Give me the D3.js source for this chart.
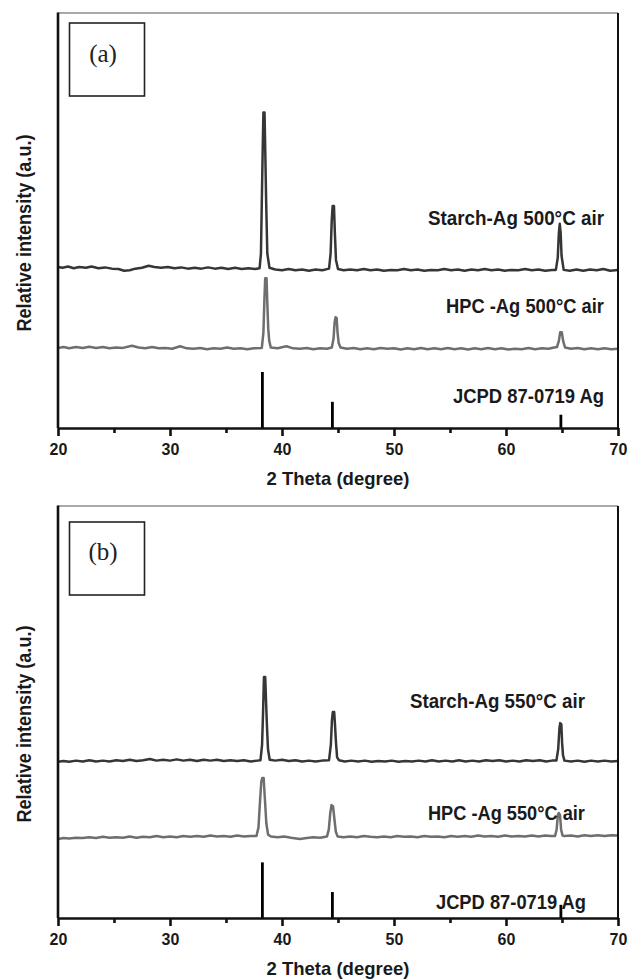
<!DOCTYPE html>
<html>
<head>
<meta charset="utf-8">
<script src="https://cdn.jsdelivr.net/npm/d3@7"></script>
<style>
  html, body { margin: 0; padding: 0; background: #fff; }
  svg { display: block; }
</style>
</head>
<body>
<svg id="chart" width="628" height="979"></svg>
<script>
// ── Datos (2θ en grados, intensidad relativa desplazada) ─────────
const X_TICKS = [20, 30, 40, 50, 60, 70];
const X_MINOR = [25, 35, 45, 55, 65];

const JCPD_87_0719 = [[38.25, 13.5], [44.5, 6.3], [64.9, 3.2]];

const STARCH_500 = [
  [20.0,38.8],[20.4,38.6],[20.9,38.9],[21.4,38.5],[21.9,38.8],[22.5,38.6],[23.0,38.9],[23.6,38.5],
  [24.2,38.7],[24.8,38.4],[25.4,38.3],[25.9,37.9],[26.4,38.0],[26.9,38.4],[27.5,38.6],[28.1,39.1],
  [28.6,38.8],[29.2,38.6],[29.8,38.8],[30.4,38.5],[31.0,38.7],[31.6,38.4],[32.2,38.6],[32.8,38.4],
  [33.4,38.7],[34.0,38.4],[34.6,38.6],[35.2,38.3],[35.8,38.6],[36.4,38.3],[37.0,38.5],[37.6,38.3],
  [38.0,38.5],[38.12,42],[38.2,55],[38.27,66],[38.34,76],[38.44,76],[38.51,66],[38.59,54],
  [38.69,42],[38.88,38.6],[39.4,38.2],[40.0,38.0],[40.6,38.3],[41.2,38.0],[41.8,38.2],[42.4,37.9],
  [43.0,38.2],[43.6,38.0],[44.2,38.4],[44.34,42],[44.44,50],[44.52,53.5],[44.64,53.5],[44.72,47],
  [44.82,40.5],[45.0,38.3],[45.5,38.0],[46.1,38.2],[46.7,38.0],[47.3,38.3],[47.9,38.0],[48.5,38.2],
  [49.1,37.9],[49.7,38.1],[50.3,38.0],[50.9,38.3],[51.5,38.0],[52.1,38.2],[52.7,37.9],[53.3,38.1],
  [53.9,38.0],[54.5,38.3],[55.1,38.0],[55.7,38.2],[56.3,37.9],[56.9,38.2],[57.5,38.0],[58.1,38.3],
  [58.7,38.0],[59.3,38.2],[59.9,37.9],[60.5,38.1],[61.1,38.0],[61.7,38.3],[62.3,38.0],[62.9,38.2],
  [63.5,37.9],[64.1,38.1],[64.45,38.1],[64.62,41],[64.72,47],[64.8,49.2],[64.88,47],[64.96,41.5],
  [65.15,38.1],[65.7,37.9],[66.3,38.2],[66.9,37.9],[67.5,38.2],[68.1,38.0],[68.7,38.3],[69.3,37.9],
  [70.0,38.1]
];

const HPC_500 = [
  [20.0,19.3],[20.5,19.5],[21.0,19.2],[21.6,19.5],[22.2,19.3],[22.8,19.6],[23.4,19.3],[24.0,19.5],
  [24.6,19.2],[25.2,19.4],[25.8,19.3],[26.6,19.8],[27.2,19.4],[27.8,19.2],[28.4,19.5],[29.0,19.2],
  [29.6,19.3],[30.2,19.1],[30.9,19.7],[31.5,19.2],[32.1,19.1],[32.7,19.3],[33.3,19.0],[33.9,19.2],
  [34.5,19.1],[35.1,19.4],[35.7,19.1],[36.3,19.2],[36.9,19.0],[37.5,19.2],[38.2,19.3],[38.34,23],
  [38.43,31],[38.5,36.1],[38.62,36.1],[38.69,30],[38.77,24],[38.86,21],[39.0,19.4],[39.6,19.2],
  [40.4,19.7],[41.0,19.2],[41.6,19.1],[42.2,19.3],[42.8,19.0],[43.4,19.2],[44.0,19.1],[44.45,19.4],
  [44.6,21.5],[44.7,25.5],[44.78,26.7],[44.88,26.5],[44.96,23],[45.06,20.5],[45.22,19.4],[45.8,19.1],
  [46.4,19.3],[47.0,19.0],[47.6,19.2],[48.2,19.0],[48.8,19.3],[49.4,19.1],[50.0,19.2],[50.6,18.9],
  [51.2,19.2],[51.8,19.0],[52.4,19.3],[53.0,19.0],[53.6,19.2],[54.2,19.0],[54.8,19.3],[55.4,19.0],
  [56.0,19.2],[56.6,18.9],[57.2,19.2],[57.8,19.0],[58.4,19.3],[59.0,19.0],[59.6,19.2],[60.2,18.9],
  [60.8,19.1],[61.4,19.0],[62.0,19.3],[62.6,19.0],[63.2,19.2],[63.8,19.1],[64.3,19.4],[64.55,19.5],
  [64.72,21],[64.84,23.1],[64.98,23.1],[65.1,21],[65.27,19.4],[65.8,19.1],[66.4,19.3],[67.0,19.0],
  [67.6,19.2],[68.2,19.0],[68.8,19.2],[69.4,19.0],[70.0,19.1]
];

const STARCH_550 = [
  [20.0,37.9],[20.5,38.1],[21.0,37.9],[21.6,38.2],[22.2,38.0],[22.8,38.3],[23.4,38.0],[24.0,38.2],
  [24.6,38.0],[25.2,38.3],[25.8,38.1],[26.4,38.4],[27.0,38.1],[27.6,38.3],[28.2,38.6],[28.8,38.2],
  [29.4,38.4],[30.0,38.2],[30.6,38.5],[31.2,38.2],[31.8,38.4],[32.4,38.1],[33.0,38.4],[33.6,38.2],
  [34.2,38.4],[34.8,38.1],[35.4,38.3],[36.0,38.1],[36.6,38.3],[37.2,38.0],[37.8,38.2],[38.08,38.3],
  [38.22,42],[38.31,50],[38.39,58.5],[38.5,58.5],[38.57,53],[38.65,47],[38.75,41],[38.9,38.4],
  [39.4,38.2],[40.0,38.4],[40.6,38.1],[41.2,38.3],[41.8,38.0],[42.4,38.2],[43.0,38.0],[43.6,38.2],
  [44.2,38.3],[44.36,42],[44.46,48],[44.54,50],[44.66,50],[44.73,47],[44.81,43],[44.92,39],
  [45.08,38.3],[45.6,38.0],[46.2,38.2],[46.8,38.0],[47.4,38.2],[48.0,37.9],[48.6,38.1],[49.2,38.0],
  [49.8,38.2],[50.4,37.9],[51.0,38.1],[51.6,38.0],[52.2,38.2],[52.8,38.0],[53.4,38.3],[54.0,38.0],
  [54.6,38.2],[55.2,38.0],[55.8,38.3],[56.4,38.0],[57.0,38.2],[57.6,38.0],[58.2,38.3],[58.8,38.1],
  [59.4,38.3],[60.0,38.0],[60.6,38.2],[61.2,38.0],[61.8,38.3],[62.4,38.1],[63.0,38.3],[63.6,38.0],
  [64.1,38.2],[64.5,38.2],[64.66,41],[64.77,46],[64.84,47.3],[64.94,47],[65.01,42.5],[65.09,39.5],
  [65.22,38.2],[65.8,38.0],[66.4,38.2],[67.0,37.9],[67.6,38.2],[68.2,38.0],[68.8,38.2],[69.4,38.0],
  [70.0,38.1]
];

const HPC_550 = [
  [20.0,19.2],[20.5,19.4],[21.0,19.3],[21.6,19.5],[22.2,19.4],[22.8,19.6],[23.4,19.4],[24.0,19.7],
  [24.6,19.5],[25.2,19.6],[25.8,19.5],[26.4,19.8],[27.0,19.5],[27.6,19.7],[28.2,19.6],[28.8,19.9],
  [29.4,19.6],[30.0,19.8],[30.6,19.6],[31.2,19.9],[31.8,19.7],[32.4,19.9],[33.0,19.7],[33.6,20.0],
  [34.2,19.8],[34.8,19.9],[35.4,19.7],[36.0,20.0],[36.6,19.8],[37.2,19.9],[37.72,19.9],[37.9,22],
  [38.03,28],[38.15,33],[38.24,34],[38.36,34],[38.47,29],[38.6,23],[38.76,20.2],[39.0,19.8],
  [39.6,19.6],[40.2,19.8],[40.8,19.5],[41.6,19.2],[42.2,19.4],[42.8,19.6],[43.4,19.5],[44.02,19.8],
  [44.18,21.5],[44.31,25.5],[44.42,27.4],[44.56,27.1],[44.68,24],[44.8,21],[44.96,19.8],[45.5,19.6],
  [46.1,19.8],[46.7,19.6],[47.3,19.9],[47.9,19.7],[48.5,19.6],[49.1,19.8],[49.7,19.6],[50.3,19.9],
  [50.9,19.7],[51.5,19.8],[52.1,19.6],[52.7,19.9],[53.3,19.7],[53.9,19.8],[54.5,19.6],[55.1,19.9],
  [55.7,19.7],[56.3,19.9],[56.9,19.7],[57.5,20.0],[58.1,19.8],[58.7,19.9],[59.3,19.7],[59.9,20.0],
  [60.5,19.8],[61.1,19.9],[61.7,19.8],[62.3,20.0],[62.9,19.8],[63.5,20.0],[64.0,19.9],[64.38,19.9],
  [64.52,21.5],[64.63,25],[64.71,25.5],[64.82,25],[64.92,21.5],[65.05,20],[65.2,19.9],[65.8,20.0],
  [66.4,19.8],[67.0,20.1],[67.6,19.9],[68.2,20.1],[68.8,19.9],[69.4,20.1],[70.0,20.0]
];

const LABELS_500 = ["Starch-Ag 500°C air", "HPC -Ag 500°C air", "JCPD 87-0719 Ag"];
const LABELS_550 = ["Starch-Ag 550°C air", "HPC -Ag 550°C air", "JCPD 87-0719 Ag"];

// ── Layout ───────────────────────────────────────────────────────
const PANELS = [
  {
    tag: "(a)", top: 13, bottom: 428, starch: STARCH_500, hpc: HPC_500, labels: LABELS_500,
    labelX: [68.75, 68.75, 68.75], labelY: [48.9, 27.7, 6.0], labelW: [176, 158, 151],
    boxTop: 23, tagBase: 62, yTitleY: 233
  },
  {
    tag: "(b)", top: 506, bottom: 918, starch: STARCH_550, hpc: HPC_550, labels: LABELS_550,
    labelX: [67.05, 67.05, 67.14], labelY: [51.0, 23.8, 2.3], labelW: [175, 157, 150],
    boxTop: 522, tagBase: 560, yTitleY: 724
  }
];

const LEFT = 58, RIGHT = 618;
const SANS = "'Liberation Sans', Arial, sans-serif";
const SERIF = "'Liberation Serif', 'DejaVu Serif', serif";

const svg = d3.select("#chart");

// ── Panel ────────────────────────────────────────────────────────
function drawPanel(p, i) {
  const x = d3.scaleLinear().domain([20, 70]).range([LEFT, RIGHT]);
  const y = d3.scaleLinear().domain([0, 100]).range([p.bottom, p.top]);
  const g = svg.append("g");

  g.append("clipPath").attr("id", "clip" + i)
    .append("rect")
    .attr("x", LEFT).attr("y", p.top)
    .attr("width", RIGHT - LEFT).attr("height", p.bottom - p.top);

  const line = d3.line().x(d => x(d[0])).y(d => y(d[1]));
  const plot = g.append("g").attr("clip-path", `url(#clip${i})`);

  plot.append("path").datum(p.starch)
    .attr("d", line).attr("fill", "none")
    .attr("stroke", "#363636").attr("stroke-width", 2.5)
    .attr("stroke-linejoin", "round");

  plot.append("path").datum(p.hpc)
    .attr("d", line).attr("fill", "none")
    .attr("stroke", "#6e6e6e").attr("stroke-width", 2.5)
    .attr("stroke-linejoin", "round");

  plot.selectAll("line.stick")
    .data(JCPD_87_0719)
    .join("line")
    .attr("class", "stick")
    .attr("x1", d => x(d[0])).attr("x2", d => x(d[0]))
    .attr("y1", y(0)).attr("y2", d => y(d[1]))
    .attr("stroke", "#000").attr("stroke-width", 2.8);

  // marco
  g.append("line").attr("x1", LEFT).attr("x2", RIGHT).attr("y1", p.top).attr("y2", p.top)
    .attr("stroke", "#555").attr("stroke-width", 1.2);
  g.append("line").attr("x1", RIGHT).attr("x2", RIGHT).attr("y1", p.top).attr("y2", p.bottom)
    .attr("stroke", "#111").attr("stroke-width", 2);
  g.append("line").attr("x1", LEFT).attr("x2", LEFT).attr("y1", p.top - 0.6).attr("y2", p.bottom)
    .attr("stroke", "#111").attr("stroke-width", 2.6);

  // eje x
  const axis = g.append("g")
    .attr("transform", `translate(0,${p.bottom})`)
    .call(d3.axisBottom(x).tickValues(X_TICKS).tickSize(8).tickSizeOuter(0));
  axis.select(".domain").attr("stroke", "#111").attr("stroke-width", 2.4);
  axis.selectAll(".tick line").attr("stroke", "#111").attr("stroke-width", 2.6);
  axis.selectAll(".tick text")
    .attr("y", 27).attr("dy", 0)
    .attr("fill", "#1a1a1a").attr("font-size", 16).attr("font-weight", "bold")
    .attr("font-family", SANS);

  const minor = g.append("g")
    .attr("transform", `translate(0,${p.bottom})`)
    .call(d3.axisBottom(x).tickValues(X_MINOR).tickSize(5).tickFormat(""));
  minor.select(".domain").remove();
  minor.selectAll(".tick line").attr("stroke", "#111").attr("stroke-width", 2.6);

  g.append("text")
    .attr("x", (LEFT + RIGHT) / 2).attr("y", p.bottom + 57)
    .attr("text-anchor", "middle")
    .attr("font-family", SANS).attr("font-size", 19).attr("font-weight", "bold")
    .attr("fill", "#1a1a1a")
    .attr("textLength", 143).attr("lengthAdjust", "spacingAndGlyphs")
    .text("2 Theta (degree)");

  // eje y
  g.append("text")
    .attr("transform", `translate(31,${p.yTitleY}) rotate(-90)`)
    .attr("text-anchor", "middle")
    .attr("font-family", SANS).attr("font-size", 21).attr("font-weight", "bold")
    .attr("fill", "#1a1a1a")
    .attr("textLength", 197).attr("lengthAdjust", "spacingAndGlyphs")
    .text("Relative intensity (a.u.)");

  // etiquetas de series
  p.labels.forEach((t, k) => {
    g.append("text")
      .attr("x", x(p.labelX[k]) - p.labelW[k]).attr("y", y(p.labelY[k]))
      .attr("font-family", SANS).attr("font-size", 21).attr("font-weight", "bold")
      .attr("fill", "#1a1a1a")
      .attr("textLength", p.labelW[k]).attr("lengthAdjust", "spacingAndGlyphs")
      .text(t);
  });

  // recuadro (a)/(b)
  g.append("rect")
    .attr("x", 69.5).attr("y", p.boxTop)
    .attr("width", 75).attr("height", 73)
    .attr("fill", "#fff").attr("stroke", "#222").attr("stroke-width", 1.6);
  g.append("text")
    .attr("x", 103).attr("y", p.tagBase)
    .attr("text-anchor", "middle")
    .attr("font-family", SERIF).attr("font-size", 25)
    .attr("fill", "#222")
    .text(p.tag);
}

// ── Init ─────────────────────────────────────────────────────────
PANELS.forEach(drawPanel);
</script>
</body>
</html>
